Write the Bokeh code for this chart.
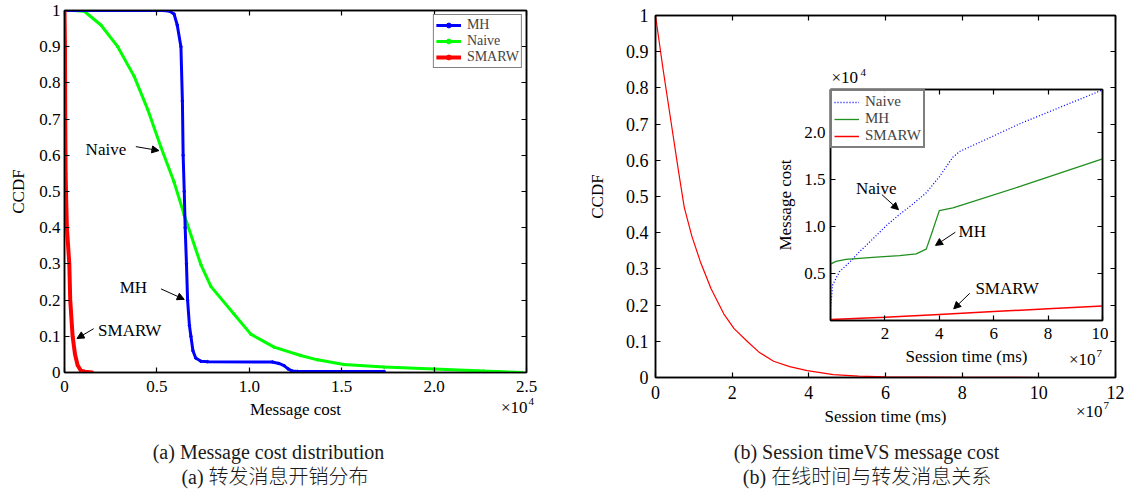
from bokeh.plotting import figure
from bokeh.models import (Range1d, FixedTicker, LinearAxis, Label, Arrow, NormalHead,
                          Legend, LegendItem, PrintfTickFormatter, CustomJSTickFormatter)
from bokeh.embed import file_html
from bokeh.resources import INLINE

SERIF = "Liberation Serif"
CJK = "Liberation Serif, Noto Sans CJK SC Light, Noto Sans CJK SC"

# ---------------- (a) Message cost distribution (cost in units of 1e4) -------------
mh_cost = [0.0, 0.538, 0.570, 0.593, 0.610, 0.630, 0.638, 0.642, 0.648, 0.653, 0.660,
           0.666, 0.676, 0.684, 0.695, 0.710, 0.738, 0.774, 1.125, 1.160, 1.188, 1.210,
           1.233, 1.260, 1.730]
mh_ccdf = [1.0, 1.0, 0.998, 0.99, 0.96, 0.90, 0.75, 0.60, 0.50, 0.40, 0.30,
           0.20, 0.13, 0.10, 0.06, 0.04, 0.031, 0.030, 0.029, 0.025, 0.019, 0.010,
           0.004, 0.003, 0.003]

naive_cost = [0.0, 0.05, 0.107, 0.197, 0.288, 0.377, 0.450, 0.522, 0.593, 0.648, 0.738,
              0.792, 0.918, 1.008, 1.134, 1.278, 1.369, 1.512, 1.729, 1.999, 2.269, 2.477]
naive_ccdf = [1.0, 1.0, 0.998, 0.96, 0.90, 0.818, 0.727, 0.622, 0.526, 0.435, 0.298,
              0.238, 0.161, 0.106, 0.070, 0.047, 0.035, 0.022, 0.015, 0.010, 0.004, 0.0]

smarw_cost = [0.0, 0.0025, 0.004, 0.006, 0.009, 0.013, 0.026, 0.031, 0.044, 0.057, 0.071,
              0.089, 0.110, 0.152]
smarw_ccdf = [1.0, 0.90, 0.70, 0.55, 0.48, 0.40, 0.30, 0.20, 0.10, 0.05, 0.02,
              0.005, 0.002, 0.0]

a_xticks = [0, 0.5, 1.0, 1.5, 2.0, 2.5]
a_yticks = [0, 0.1, 0.2, 0.3, 0.4, 0.5, 0.6, 0.7, 0.8, 0.9, 1]

# ---------------- (b) Session time vs message cost (time in 1e7 ms) ----------------
sess_t = [0.0, 0.2, 0.4, 0.6, 0.75, 0.95, 1.17, 1.45, 1.78, 2.05, 2.39, 2.7, 3.08,
          3.5, 3.96, 4.64, 5.3, 6.0, 8.0, 10.0]
sess_ccdf = [1.0, 0.85, 0.71, 0.57, 0.47, 0.39, 0.32, 0.245, 0.176, 0.135, 0.10, 0.07,
             0.045, 0.03, 0.019, 0.008, 0.004, 0.002, 0.0005, 0.0]

b_xticks = [0, 2, 4, 6, 8, 10, 12]
b_yticks = a_yticks

# inset: message cost (units of 1e4) vs session time (units of 1e7 ms)
ins_naive_t = [0.0, 0.08, 0.33, 0.70, 1.06, 1.56, 2.05, 2.54, 3.03, 3.52, 4.0, 4.5,
               4.75, 7.0, 10.0]
ins_naive_c = [0.12, 0.38, 0.52, 0.62, 0.73, 0.87, 1.01, 1.13, 1.24, 1.36, 1.53, 1.74,
               1.80, 2.10, 2.455]
ins_mh_t = [0.0, 0.0, 0.2, 0.57, 1.68, 2.54, 3.15, 3.52, 3.77, 4.0, 4.5, 4.88, 7.0, 10.0]
ins_mh_c = [0.0, 0.60, 0.63, 0.65, 0.675, 0.69, 0.71, 0.76, 0.97, 1.17, 1.20, 1.235,
            1.43, 1.72]
ins_smarw_t = [0.0, 2.0, 4.0, 6.0, 8.0, 10.0]
ins_smarw_c = [0.01, 0.035, 0.065, 0.095, 0.125, 0.155]

ins_xticks = [2, 4, 6, 8, 10]
ins_yticks = [0.5, 1.0, 1.5, 2.0]

captions_a = ["(a) Message cost distribution", "(a)  转发消息开销分布"]
captions_b = ["(b) Session timeVS message cost", "(b)  在线时间与转发消息关系"]
power_texts = ["×10", "4", "×10", "7", "×10", "7", "×10", "4"]


def place(p, left, top):
    p.styles = {"position": "absolute", "left": f"{left}px", "top": f"{top}px"}


def blank_formatter():
    return CustomJSTickFormatter(code="return ''")


def style(p, xticks, yticks, xfmt, yfmt, fs, xstand, ystand, xover=None, yover=None):
    p.grid.grid_line_color = None
    p.outline_line_color = "black"
    p.outline_line_width = 1.5
    for ax, ticks, fmt, st, ov in ((p.xaxis[0], xticks, xfmt, xstand, xover),
                                   (p.yaxis[0], yticks, yfmt, ystand, yover)):
        ax.ticker = FixedTicker(ticks=ticks)
        ax.formatter = PrintfTickFormatter(format=fmt)
        if ov:
            ax.major_label_overrides = ov
        ax.major_tick_in = 5
        ax.major_tick_out = 0
        ax.minor_tick_line_color = None
        ax.axis_line_width = 1.5
        ax.axis_line_color = "black"
        ax.major_tick_line_width = 1.2
        ax.major_label_text_font = SERIF
        ax.major_label_text_font_size = fs
        ax.major_label_text_color = "black"
        ax.major_label_standoff = st
        ax.axis_label_text_font = SERIF
        ax.axis_label_text_font_size = "17px"
        ax.axis_label_text_font_style = "normal"
        ax.axis_label_text_color = "black"
    for side, ticks in (("above", xticks), ("right", yticks)):
        ax = LinearAxis(ticker=FixedTicker(ticks=ticks), formatter=blank_formatter(),
                        major_label_text_font_size="0px", major_label_standoff=0,
                        major_tick_in=5, major_tick_out=0, minor_tick_line_color=None,
                        axis_line_width=1.5, major_tick_line_width=1.2)
        p.add_layout(ax, side)


def note(p, text, x, y, fs="17px"):
    p.add_layout(Label(x=x, y=y, text=text, text_font=SERIF, text_font_size=fs,
                       text_align="center", text_baseline="middle", text_color="black"))


def arrow(p, x0, y0, x1, y1):
    p.add_layout(Arrow(end=NormalHead(size=7, fill_color="black", line_color="black"),
                       x_start=x0, y_start=y0, x_end=x1, y_end=y1,
                       line_color="black", line_width=1))


# ---------------- left figure ----------------
pL = figure(width=580, height=495, x_range=Range1d(0, 2.5), y_range=Range1d(0, 1),
            output_backend="svg", toolbar_location=None,
            min_border_left=64, min_border_right=54, min_border_top=10, min_border_bottom=123)
pL.xaxis.axis_label = "Message cost"
pL.yaxis.axis_label = "CCDF"
style(pL, a_xticks, a_yticks, "%.1f", "%.1f", "17px", 8, 4,
      xover={0: "0"}, yover={0: "0", 1: "1"})
pL.xaxis[0].axis_label_standoff = 4
pL.yaxis[0].axis_label_standoff = 8

rn = pL.line(naive_cost, naive_ccdf, line_color="#00ff00", line_width=3)
sn = pL.scatter(naive_cost, naive_ccdf, color="#00ff00", size=2.5)
rm = pL.line(mh_cost, mh_ccdf, line_color="#0000ff", line_width=3)
sm = pL.scatter(mh_cost, mh_ccdf, color="#0000ff", size=2.5)
rs = pL.line(smarw_cost, smarw_ccdf, line_color="#ff0000", line_width=4)
ss = pL.scatter(smarw_cost, smarw_ccdf, color="#ff0000", size=2.5)

legA = Legend(items=[LegendItem(label="MH", renderers=[rm, sm]),
                     LegendItem(label="Naive", renderers=[rn, sn]),
                     LegendItem(label="SMARW", renderers=[rs, ss])],
              location="top_right", margin=4, padding=2, spacing=-4,
              label_text_font=SERIF, label_text_font_size="14px", label_height=12,
              label_text_line_height=0.85,
              glyph_height=12, glyph_width=25, label_standoff=6,
              border_line_color="black", border_line_width=1.5,
              background_fill_alpha=1.0)
pL.add_layout(legA)

note(pL, "Naive", 0.224, 0.615)
arrow(pL, 0.386, 0.624, 0.511, 0.613)
note(pL, "MH", 0.373, 0.234)
arrow(pL, 0.522, 0.231, 0.648, 0.202)
note(pL, "SMARW", 0.353, 0.115)
arrow(pL, 0.158, 0.121, 0.0676, 0.094)
place(pL, 0, 0)

# ---------------- right figure ----------------
pR = figure(width=545, height=495, x_range=Range1d(0, 12), y_range=Range1d(0, 1),
            output_backend="svg", toolbar_location=None,
            min_border_left=75, min_border_right=10, min_border_top=15, min_border_bottom=118)
pR.xaxis.axis_label = "Session time (ms)"
pR.yaxis.axis_label = "CCDF"
style(pR, b_xticks, b_yticks, "%d", "%.1f", "18px", 8, 7, yover={0: "0", 1: "1"})
pR.xaxis[0].axis_label_standoff = 4
pR.yaxis[0].axis_label_standoff = 16
pR.line(sess_t, sess_ccdf, line_color="#ff0000", line_width=1.2)
place(pR, 580, 0)

# ---------------- inset ----------------
pI = figure(width=336, height=304, x_range=Range1d(0, 10), y_range=Range1d(0, 2.46),
            output_backend="svg", toolbar_location=None,
            min_border_left=58, min_border_right=6, min_border_top=25, min_border_bottom=45,
            border_fill_color=None, background_fill_color="white")
pI.xaxis.axis_label = "Session time (ms)"
pI.yaxis.axis_label = "Message cost"
style(pI, ins_xticks, ins_yticks, "%d", "%.1f", "17px", 7, 5)
pI.xaxis[0].axis_label_standoff = 5
pI.yaxis[0].axis_label_standoff = 6

i_n = pI.line(ins_naive_t, ins_naive_c, line_color="#0000ff", line_width=1.3, line_dash="1 2")
i_m = pI.line(ins_mh_t, ins_mh_c, line_color="#1f8f1f", line_width=1.3)
i_s = pI.line(ins_smarw_t, ins_smarw_c, line_color="#ff0000", line_width=1.5)
legI = Legend(items=[LegendItem(label="Naive", renderers=[i_n]),
                     LegendItem(label="MH", renderers=[i_m]),
                     LegendItem(label="SMARW", renderers=[i_s])],
              location="top_left", margin=0, padding=2, spacing=-4,
              label_text_font=SERIF, label_text_font_size="15px", label_height=12,
              label_text_line_height=0.85,
              glyph_height=12, glyph_width=25, label_standoff=6,
              border_line_color="black", border_line_width=2)
pI.add_layout(legI)

note(pI, "Naive", 1.68, 1.41)
arrow(pI, 1.89, 1.34, 2.50, 1.18)
note(pI, "MH", 5.21, 0.95)
arrow(pI, 4.59, 0.94, 3.86, 0.80)
note(pI, "SMARW", 6.49, 0.34)
arrow(pI, 5.12, 0.29, 4.53, 0.124)
place(pI, 772, 64)

# ---------------- transparent text overlay (captions, axis multipliers) ----------------
pO = figure(width=1125, height=495, x_range=Range1d(0, 1125), y_range=Range1d(495, 0),
            output_backend="svg", toolbar_location=None, min_border=0,
            x_axis_location=None, y_axis_location=None,
            background_fill_color=None, border_fill_color=None, outline_line_color=None)
pO.grid.grid_line_color = None
place(pO, 0, 0)


def otext(text, x, y, align, fs, font=SERIF, color="black"):
    pO.add_layout(Label(x=x, y=y, text=text, text_font=font, text_font_size=fs,
                        text_align=align, text_baseline="middle", text_color=color))


# multipliers: (a) x-axis, (b) x-axis, inset x-axis, inset y-axis
otext(power_texts[0], 527, 407, "right", "17px")
otext(power_texts[1], 528, 401, "left", "11px")
otext(power_texts[2], 1102, 411, "right", "17px")
otext(power_texts[3], 1103, 405, "left", "11px")
otext(power_texts[4], 1095, 359, "right", "17px")
otext(power_texts[5], 1096, 353, "left", "11px")
otext(power_texts[6], 831, 77, "left", "17px")
otext(power_texts[7], 860, 72, "left", "11px")

# captions
otext(captions_a[0], 268, 451, "center", "20px", CJK, "#1a1a1a")
otext(captions_a[1], 277, 476, "center", "20px", CJK, "#1a1a1a")
otext(captions_b[0], 866, 451, "center", "20px", CJK, "#1a1a1a")
otext(captions_b[1], 869, 476, "center", "20px", CJK, "#1a1a1a")

open("out.html", "w").write(file_html([pL, pR, pI, pO], INLINE))
